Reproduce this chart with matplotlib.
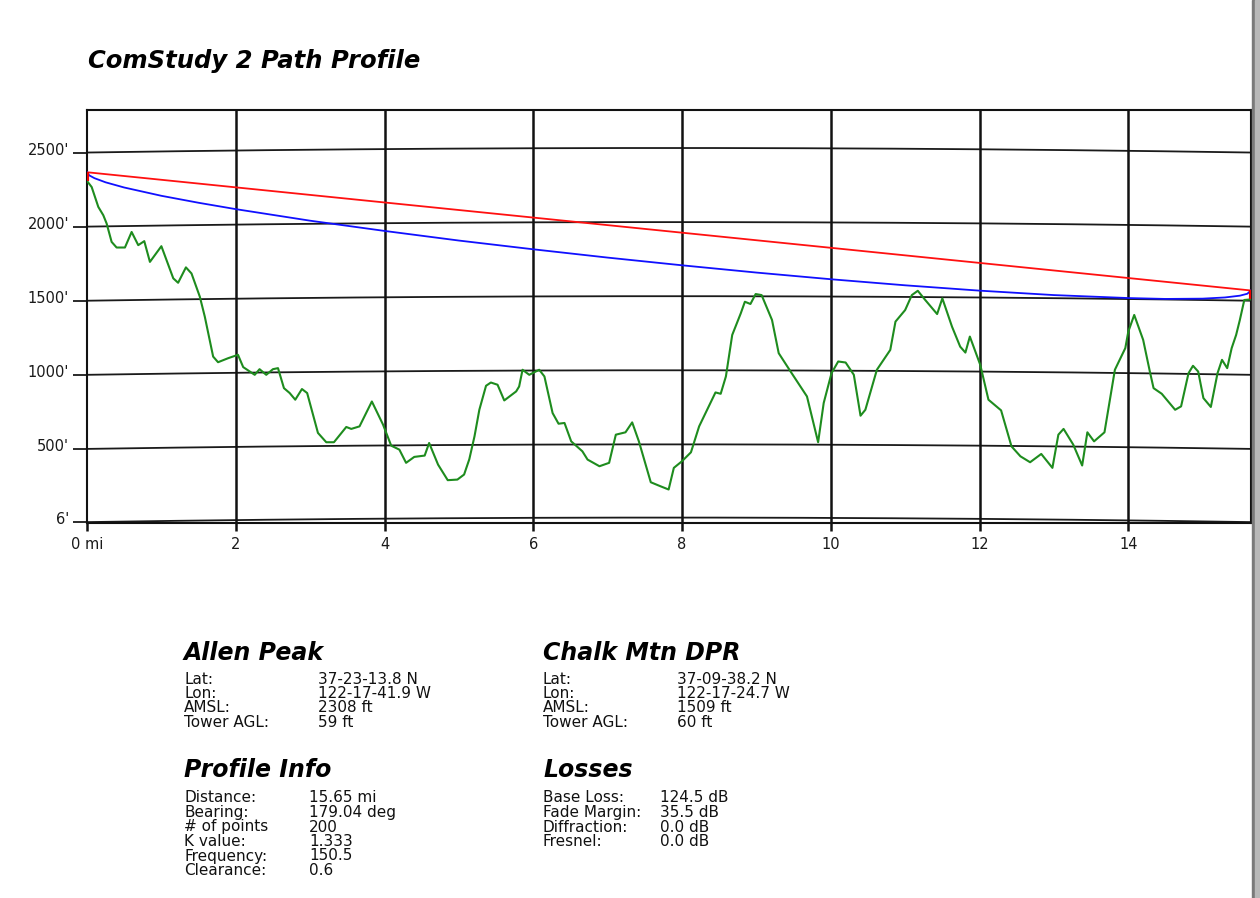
import numpy as np
import matplotlib
matplotlib.use("Agg")
import matplotlib.pyplot as plt
from matplotlib.transforms import ScaledTranslation
from matplotlib.patches import Rectangle

# path data
distance_mi = 15.65
k_value = 1.333
site_a_amsl, site_a_tower = 2308, 59
site_b_amsl, site_b_tower = 1509, 60

terrain_d = [0.0, 0.063, 0.152, 0.219, 0.264, 0.331, 0.398, 0.51, 0.60, 0.689,
             0.77, 0.846, 1.0, 1.16, 1.225, 1.33, 1.405, 1.517, 1.584, 1.696,
             1.762, 1.897, 2.03, 2.10, 2.255, 2.32, 2.41, 2.50, 2.568, 2.648,
             2.725, 2.80, 2.89, 2.96, 3.105, 3.217, 3.32, 3.486, 3.553, 3.664,
             3.83, 3.98, 4.09, 4.20, 4.29, 4.40, 4.54, 4.60, 4.72, 4.85,
             4.98, 5.07, 5.14, 5.21, 5.275, 5.365, 5.43, 5.52, 5.61, 5.77,
             5.81, 5.856, 5.946, 6.08, 6.15, 6.26, 6.34, 6.42, 6.51, 6.66,
             6.73, 6.89, 7.02, 7.11, 7.24, 7.33, 7.42, 7.58, 7.71, 7.82,
             7.89, 8.0, 8.12, 8.23, 8.36, 8.45, 8.52, 8.59, 8.675, 8.79,
             8.845, 8.92, 8.99, 9.07, 9.21, 9.30, 9.46, 9.68, 9.83, 9.905,
             10.01, 10.10, 10.20, 10.31, 10.40, 10.465, 10.62, 10.80, 10.87, 11.0,
             11.09, 11.17, 11.27, 11.43, 11.50, 11.63, 11.74, 11.81, 11.87, 12.01,
             12.12, 12.29, 12.43, 12.55, 12.68, 12.83, 12.98, 13.06, 13.13, 13.26,
             13.38, 13.45, 13.54, 13.68, 13.82, 13.96, 14.0, 14.08, 14.2, 14.29,
             14.34, 14.45, 14.63, 14.71, 14.81, 14.87, 14.94, 15.01, 15.11, 15.20,
             15.26, 15.33, 15.39, 15.45, 15.50, 15.56, 15.65]
terrain_ft = [2308, 2267, 2133, 2077, 2021, 1897, 1859, 1859, 1964, 1875,
              1902, 1762, 1868, 1651, 1621, 1725, 1684, 1527, 1392, 1123,
              1085, 1112, 1135, 1052, 1000, 1038, 1000, 1038, 1045, 910,
              877, 832, 904, 877, 608, 545, 545, 648, 635, 652,
              820, 664, 522, 495, 406, 446, 455, 540, 394, 289,
              293, 327, 430, 585, 764, 926, 948, 933, 827, 888,
              921, 1034, 1000, 1034, 989, 742, 670, 675, 551, 484,
              428, 383, 406, 596, 612, 679, 551, 275, 248, 226,
              372, 417, 477, 652, 787, 881, 872, 989, 1269, 1415,
              1493, 1478, 1545, 1538, 1370, 1146, 1022, 854, 545, 810,
              1011, 1090, 1083, 1000, 724, 764, 1034, 1168, 1359, 1437,
              1538, 1567, 1505, 1410, 1516, 1325, 1190, 1150, 1258, 1067,
              832, 760, 517, 450, 410, 466, 372, 596, 635, 529,
              388, 612, 551, 612, 1034, 1180, 1291, 1404, 1236, 1022,
              910, 872, 764, 787, 1011, 1061, 1022, 843, 783, 1011,
              1101, 1045, 1180, 1269, 1370, 1505, 1509]

# 0.6 fresnel clearance line
fresnel_d = [0, 0.03, 0.1, 0.25, 0.5, 1, 1.5, 2, 3, 4, 5, 6, 7, 8, 9, 10,
             11, 12, 13, 14, 14.5, 15, 15.3, 15.5, 15.6, 15.65]
fresnel_ft = [2367, 2346, 2327, 2299, 2264, 2208, 2161, 2118, 2040, 1971, 1906,
              1847, 1791, 1739, 1690, 1645, 1604, 1568, 1538, 1518, 1512, 1514,
              1522, 1534, 1547, 1569]

y_ticks = [6, 500, 1000, 1500, 2000, 2500]
y_labels = ["6'", "500'", "1000'", "1500'", "2000'", "2500'"]
x_ticks = [0, 2, 4, 6, 8, 10, 12, 14]
x_labels = ["0 mi", "2", "4", "6", "8", "10", "12", "14"]

site_a = ("Allen Peak", [("Lat:", "37-23-13.8 N"), ("Lon:", "122-17-41.9 W"),
                         ("AMSL:", "2308 ft"), ("Tower AGL:", "59 ft")])
site_b = ("Chalk Mtn DPR", [("Lat:", "37-09-38.2 N"), ("Lon:", "122-17-24.7 W"),
                            ("AMSL:", "1509 ft"), ("Tower AGL:", "60 ft")])
profile_info = ("Profile Info", [("Distance:", "15.65 mi"), ("Bearing:", "179.04 deg"),
                                 ("# of points", "200"), ("K value:", "1.333"),
                                 ("Frequency:", "150.5"), ("Clearance:", "0.6")])
losses = ("Losses", [("Base Loss:", "124.5 dB"), ("Fade Margin:", "35.5 dB"),
                     ("Diffraction:", "0.0 dB"), ("Fresnel:", "0.0 dB")])

W, H = 1260, 898
plt.rcParams["font.family"] = ["DejaVu Sans"]
fig = plt.figure(figsize=(W / 100, H / 100), dpi=100)


def fx(x):
    return x / W


def fy(y):
    return 1 - y / H


ax = fig.add_axes([fx(87), fy(523), fx(1251) - fx(87), fy(110) - fy(523)])
ax.set_xlim(0, distance_mi)
ax.set_ylim(0, 2787)

# earth bulge gridlines
dd = np.linspace(0, distance_mi, 300)
bulge = dd * (distance_mi - dd) / (1.5 * k_value)
for lvl in y_ticks:
    ax.plot(dd, lvl + bulge, color="#1a1a1a", lw=1.3, zorder=1)
for xv in x_ticks[1:]:
    ax.axvline(xv, color="#111111", lw=1.8, zorder=1)

ax.plot(terrain_d, terrain_ft, color="#1e8c1e", lw=1.5, zorder=3)
ax.plot([0, distance_mi], [site_a_amsl + site_a_tower, site_b_amsl + site_b_tower],
        color="#ff1010", lw=1.3, zorder=4)
ax.plot(fresnel_d, fresnel_ft, color="#1010ff", lw=1.3, zorder=4)
ax.vlines([0, distance_mi], [site_a_amsl, site_b_amsl],
          [site_a_amsl + site_a_tower, site_b_amsl + site_b_tower],
          color="#ee0000", lw=3, zorder=5)

for s in ax.spines.values():
    s.set_color("#111111")
    s.set_linewidth(1.5)

ax.set_yticks(y_ticks)
ax.set_yticklabels(y_labels)
ax.set_xticks(x_ticks)
ax.set_xticklabels(x_labels)
ax.tick_params(axis="y", length=10, width=1.3, pad=3, labelsize=10.5,
               labelcolor="#1a1a1a", color="#1a1a1a")
ax.tick_params(axis="x", length=6, width=1.8, pad=4, labelsize=10.5,
               labelcolor="#1a1a1a", color="#111111")
for lbl in ax.get_yticklabels():
    lbl.set_transform(lbl.get_transform() + ScaledTranslation(0, 0.04, fig.dpi_scale_trans))

fig.text(fx(88), fy(68), "ComStudy 2 Path Profile", fontsize=17.5,
         fontweight="bold", fontstyle="italic", va="baseline", ha="left")


def block(x, x_val, y_head, y_first, data):
    title, rows = data
    fig.text(fx(x), fy(y_head), title, fontsize=17, fontweight="bold",
             fontstyle="italic", va="baseline", ha="left")
    for i, (lab, val) in enumerate(rows):
        y = y_first + i * 14.5
        fig.text(fx(x), fy(y), lab, fontsize=11, va="baseline", ha="left", color="#111111")
        fig.text(fx(x_val), fy(y), val, fontsize=11, va="baseline", ha="left", color="#111111")


block(184, 318, 660, 683.5, site_a)
block(543, 677, 660, 683.5, site_b)
block(184, 309, 777, 802.5, profile_info)
block(543, 660, 777, 802.5, losses)

# page edge shadow on the right
fig.patches.append(Rectangle((fx(1252), 0), fx(3), 1, transform=fig.transFigure,
                             color="#7a7a7a", zorder=0))
fig.patches.append(Rectangle((fx(1255), 0), fx(5), 1, transform=fig.transFigure,
                             color="#b8b8b8", zorder=0))

fig.savefig("out.png", dpi=100, facecolor="white")
